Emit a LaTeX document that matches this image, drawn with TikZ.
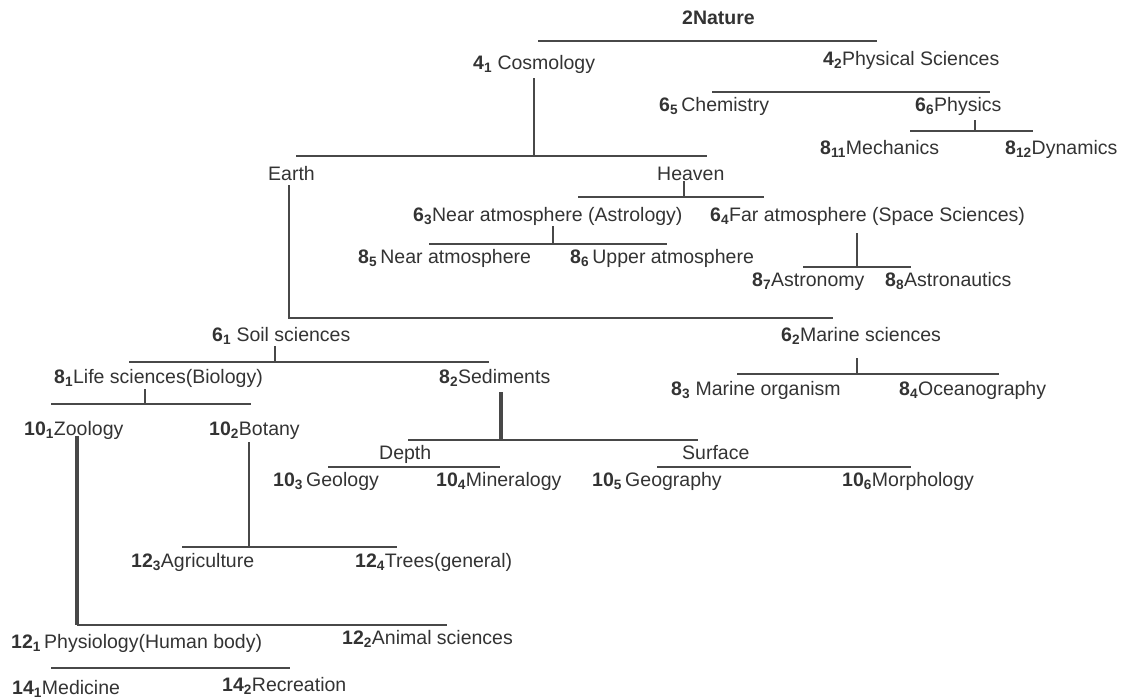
\documentclass[tikz,border=0pt]{standalone}
\usepackage{fontspec}
\setmainfont{Liberation Sans}
\definecolor{txt}{HTML}{333333}
\definecolor{ln}{HTML}{484848}
\newcommand\nm[2]{\textbf{#1}\textsubscript{\textbf{#2}}}
\begin{document}
\begin{tikzpicture}[x=1pt,y=-1pt,
  lbl/.style={anchor=base west, inner sep=0pt, text=txt, font=\fontsize{19.5}{21}\selectfont},
  bar/.style={draw=ln, line width=1.2pt},
  thickbar/.style={draw=ln, line width=3.5pt}]
\useasboundingbox (0,0) rectangle (1123,699);
% ---------- labels ----------
\node[lbl] (nature) at (682,24) {\textbf{2Nature}};
\node[lbl] (cosmo) at (473,69) {\nm{4}{1} Cosmology};
\node[lbl] (phys) at (823,65) {\nm{4}{2}Physical Sciences};
\node[lbl] (chem) at (659,111) {\nm{6}{5}\,Chemistry};
\node[lbl] (physics) at (915,111) {\nm{6}{6}Physics};
\node[lbl] (mech) at (820,154) {\nm{8}{11}Mechanics};
\node[lbl] (dyn) at (1005,154) {\nm{8}{12}Dynamics};
\node[lbl] (earth) at (268,180) {Earth};
\node[lbl] (heaven) at (657,180) {Heaven};
\node[lbl] (nearatm) at (413,221) {\nm{6}{3}Near atmosphere (Astrology)};
\node[lbl] (faratm) at (710,221) {\nm{6}{4}Far atmosphere (Space Sciences)};
\node[lbl] (near2) at (358,263) {\nm{8}{5}\,Near atmosphere};
\node[lbl] (upper) at (570,263) {\nm{8}{6}\,Upper atmosphere};
\node[lbl] (astronomy) at (752,286) {\nm{8}{7}Astronomy};
\node[lbl] (astronautics) at (885,286) {\nm{8}{8}Astronautics};
\node[lbl] (soil) at (212,341) {\nm{6}{1} Soil sciences};
\node[lbl] (marine) at (781,341) {\nm{6}{2}Marine sciences};
\node[lbl] (life) at (54,383) {\nm{8}{1}Life sciences(Biology)};
\node[lbl] (sediments) at (439,383) {\nm{8}{2}Sediments};
\node[lbl] (morg) at (671,395) {\nm{8}{3} Marine organism};
\node[lbl] (ocean) at (899,395) {\nm{8}{4}Oceanography};
\node[lbl] (zoology) at (24,435) {\nm{10}{1}Zoology};
\node[lbl] (botany) at (209,435) {\nm{10}{2}Botany};
\node[lbl] (depth) at (379,459) {Depth};
\node[lbl] (surface) at (682,459) {Surface};
\node[lbl] (geology) at (273,486) {\nm{10}{3}\,Geology};
\node[lbl] (mineral) at (436,486) {\nm{10}{4}Mineralogy};
\node[lbl] (geography) at (592,486) {\nm{10}{5}\,Geography};
\node[lbl] (morph) at (842,486) {\nm{10}{6}Morphology};
\node[lbl] (agri) at (131,567) {\nm{12}{3}Agriculture};
\node[lbl] (trees) at (355,567) {\nm{12}{4}Trees(general)};
\node[lbl] (physio) at (11,648) {\nm{12}{1}\,Physiology(Human body)};
\node[lbl] (animal) at (342,644) {\nm{12}{2}Animal sciences};
\node[lbl] (medicine) at (12,694) {\nm{14}{1}Medicine};
\node[lbl] (recreation) at (222,691) {\nm{14}{2}Recreation};
% ---------- connector points ----------
\coordinate (natL) at (538,41);  \coordinate (natR) at (877,41);
\coordinate (cosV) at (534,78);  \coordinate (cosB) at (534,156);
\coordinate (ehL) at (296,156);  \coordinate (ehR) at (707,156);
\coordinate (chL) at (712,92);   \coordinate (chR) at (990,92);
\coordinate (phV) at (975,120);  \coordinate (phB) at (975,131);
\coordinate (mdL) at (910,131);  \coordinate (mdR) at (1033,131);
\coordinate (eaV) at (289,185);  \coordinate (eaB) at (289,318);
\coordinate (smR) at (833,318);
\coordinate (heV) at (684,181);  \coordinate (heB) at (684,197);
\coordinate (nfL) at (578,197);  \coordinate (nfR) at (764,197);
\coordinate (naV) at (553,226);  \coordinate (naB) at (553,244);
\coordinate (nuL) at (429,244);  \coordinate (nuR) at (667,244);
\coordinate (faV) at (857,233);  \coordinate (faB) at (857,267);
\coordinate (aaL) at (803,267);  \coordinate (aaR) at (911,267);
\coordinate (soV) at (275,346);  \coordinate (soB) at (275,362);
\coordinate (lsL) at (129,362);  \coordinate (lsR) at (489,362);
\coordinate (maV) at (857,358);  \coordinate (maB) at (857,374);
\coordinate (moL) at (737,374);  \coordinate (moR) at (999,374);
\coordinate (liV) at (145,389);  \coordinate (liB) at (145,404);
\coordinate (zbL) at (51,404);   \coordinate (zbR) at (251,404);
\coordinate (seV) at (501,392);  \coordinate (seB) at (501,440);
\coordinate (dsL) at (408,440);  \coordinate (dsR) at (698,440);
\coordinate (deL) at (328,467);  \coordinate (deR) at (500,467);
\coordinate (suL) at (657,467);  \coordinate (suR) at (911,467);
\coordinate (boV) at (249,442);  \coordinate (boB) at (249,547);
\coordinate (atL) at (182,547);  \coordinate (atR) at (397,547);
\coordinate (zoV) at (77,436);   \coordinate (zoB) at (77,625);
\coordinate (paR) at (447,625);
\coordinate (mrL) at (51,668);   \coordinate (mrR) at (290,668);
% ---------- connectors ----------
\draw[bar] (natL) -- (natR);
\draw[bar] (cosV) -- (cosB);
\draw[bar] (ehL) -- (ehR);
\draw[bar] (chL) -- (chR);
\draw[bar] (phV) -- (phB);
\draw[bar] (mdL) -- (mdR);
\draw[bar] (eaV) -- (eaB) -- (smR);
\draw[bar] (heV) -- (heB);
\draw[bar] (nfL) -- (nfR);
\draw[bar] (naV) -- (naB);
\draw[bar] (nuL) -- (nuR);
\draw[bar] (faV) -- (faB);
\draw[bar] (aaL) -- (aaR);
\draw[bar] (soV) -- (soB);
\draw[bar] (lsL) -- (lsR);
\draw[bar] (maV) -- (maB);
\draw[bar] (moL) -- (moR);
\draw[bar] (liV) -- (liB);
\draw[bar] (zbL) -- (zbR);
\draw[thickbar] (seV) -- (seB);
\draw[bar] (dsL) -- (dsR);
\draw[bar] (deL) -- (deR);
\draw[bar] (suL) -- (suR);
\draw[bar] (boV) -- (boB);
\draw[bar] (atL) -- (atR);
\draw[thickbar] (zoV) -- (zoB);
\draw[bar] (zoB) -- (paR);
\draw[bar] (mrL) -- (mrR);
\end{tikzpicture}
\end{document}
